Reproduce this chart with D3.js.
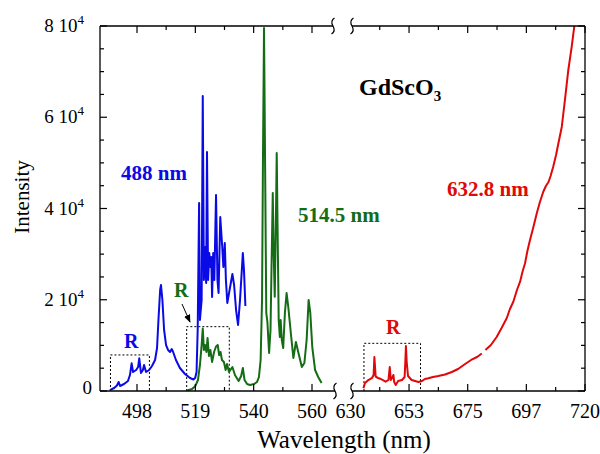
<!DOCTYPE html>
<html><head><meta charset="utf-8">
<script src="https://cdn.jsdelivr.net/npm/d3@7"></script>
<style>body{margin:0;background:#fff}svg{display:block}text{font-family:"Liberation Serif","Times New Roman",serif}</style>
</head><body>
<svg id="c" width="600" height="454"></svg>
<script>
// ---- data ----
const blueWl = [488.4,489.9,490.9,491.5,492.0,493.4,494.8,495.5,496.1,496.6,497.7,498.4,498.8,499.4,500.1,500.5,501.2,502.3,503.3,504.4,505.1,505.6,506.2,506.5,507.0,507.6,508.3,509.0,509.7,510.3,510.8,511.8,513.2,515.0,516.8,518.0,518.6,519.1,519.5,520.0,520.3,520.9,521.3,521.7,522.2,522.5,522.8,523.2,523.6,524.0,524.3,524.6,525.0,525.4,526.0,526.5,526.9,527.5,528.2,528.6,529.1,529.5,530.0,530.8,531.8,532.4,533.1,533.8,534.5,535.5,535.9,536.4];
const blueI = [200,660,1200,1970,1100,1530,2190,3500,6070,4160,4600,5260,7170,3950,4600,5700,4160,4600,5480,6800,9420,15560,22140,23230,19950,13370,10080,8990,8550,9200,8550,6800,5040,3730,2850,2520,2850,4160,13370,41200,15560,19950,64660,24330,31560,23670,52380,24330,30250,27180,29370,20600,30250,24330,42960,24330,21480,38140,31560,27180,32440,24330,19290,22140,25640,23230,17750,14470,19950,30250,26520,18630];
const greenWl = [515.7,517.5,518.7,519.6,520.3,520.9,521.3,521.7,522.1,522.6,523.0,523.5,524.0,524.6,525.3,526.0,526.6,527.1,527.6,528.1,528.8,529.4,529.9,530.6,531.8,532.7,534.0,534.9,535.5,536.1,537.0,538.0,539.5,540.5,541.2,541.8,542.3,542.6,543.0,543.4,543.8,544.2,544.8,545.3,545.7,546.1,546.4,546.8,547.3,547.5,547.9,548.2,548.6,548.9,549.3,549.8,550.4,551.0,551.6,552.5,553.4,554.3,555.2,556.4,557.3,558.1,558.8,559.4,560.1,561.1,562.2,563.4];
const greenI = [110,440,1100,2410,5700,10080,13700,8990,10080,8550,11620,7670,8990,6360,8550,9750,10080,7890,8550,6800,6360,4600,5920,4160,5260,3510,2190,3290,5040,2410,1530,1320,1530,1970,3070,6800,19950,48440,79560,48440,17100,15120,8330,13370,28710,43400,30900,20670,41860,52160,30900,15560,11840,15560,11180,9420,17100,21480,18410,12710,7230,10740,8330,5260,6140,11180,19950,17100,9640,4600,3070,1750];
const redWl = [635.0,635.6,636.9,638.3,638.9,639.2,639.7,640.6,641.7,643.5,644.6,645.1,645.5,646.2,646.5,646.8,647.4,648.3,649.8,650.8,651.1,651.3,651.6,652.1,653.5,654.8,656.1,657.5,658.6,659.9,661.7,663.7,666.3,668.9,671.3,674.0,676.3,678.6,680.4,681.1,681.8,683.9,686.1,688.0,690.0,691.2,692.5,693.9,695.1,696.0,697.0,697.9,698.9,700.2,701.5,702.7,704.0,705.0,706.0,706.8,707.8,708.9,709.8,711.1,712.3,713.6,714.9,716.2];
const redI = [590,1750,2410,2850,3510,7450,3130,2850,2630,2040,2410,5260,2410,3070,3510,1970,1320,2190,2410,3070,6800,9860,6360,3290,2410,2190,1970,2190,2630,2780,3070,3290,3620,4160,4820,5920,6800,7450,8220,null,8990,10080,11840,13810,16000,17970,19570,22140,23960,26080,27990,30690,33100,35950,38950,41420,43680,44930,45800,47120,49160,51730,54290,57930,63780,70360,75460,81320];

const leftMajor = [498, 518.67, 539.33, 560];
const leftMajorLabels = ["498","519","540","560"];
const leftMinor = [508.33, 529, 549.67];
const rightMajor = [630, 652.5, 675, 697.5, 720];
const rightMajorLabels = ["630","653","675","697","720"];
const rightMinor = [641.25, 663.75, 686.25, 708.75];
const yMajor = [0, 20000, 40000, 60000, 80000];
const yMajorMant = ["0","2 10","4 10","6 10","8 10"];
const yMinor = [5000,10000,15000,25000,30000,35000,45000,50000,55000,65000,70000,75000];

// R boxes [wlStart, wlEnd, top intensity]
const boxBlue = [488.6, 502.4, 7900];
const boxGreen = [515.6, 530.7, 14100];
const boxRed = [635.2, 656.9, 10450];

// ---- layout ----
const L = 100, R = 585, T = 26, B = 391;
const svg = d3.select("#c");
const xLeft = d3.scaleLinear().domain([498, 560]).range([137, 312]);
const xRight = d3.scaleLinear().domain([630, 720]).range([350.4, 585]);
const xs = w => w < 600 ? xLeft(w) : xRight(w);
const y = d3.scaleLinear().domain([0, 80000]).range([B, T]);

svg.append("defs").append("clipPath").attr("id","clip")
  .append("rect").attr("x",L).attr("y",T).attr("width",R-L).attr("height",B-T);
const mk = svg.select("defs").append("marker").attr("id","arr").attr("viewBox","0 0 10 10")
  .attr("refX",9).attr("refY",5).attr("markerWidth",8).attr("markerHeight",8).attr("orient","auto")
  .attr("markerUnits","userSpaceOnUse");
mk.append("path").attr("d","M0,1 L10,5 L0,9 z").attr("fill","#000");

// dotted boxes
function box(b){
  const x0 = xs(b[0]), x1 = xs(b[1]), yt = y(b[2]);
  svg.append("path").attr("d",`M${x0},${B} L${x0},${yt} L${x1},${yt} L${x1},${B}`)
    .attr("fill","none").attr("stroke","#000").attr("stroke-width",1).attr("stroke-dasharray","2,2");
}
box(boxBlue); box(boxGreen); box(boxRed);

// lines
const g = svg.append("g").attr("clip-path","url(#clip)");
function series(wl, vals, color){
  const d = wl.map((w,i)=>({w, v: vals[i]}));
  const line = d3.line().defined(p => p.v !== null).x(p => xs(p.w)).y(p => y(p.v));
  g.append("path").datum(d).attr("d", line).attr("fill","none").attr("stroke",color)
    .attr("stroke-width",2).attr("stroke-linejoin","round");
}
series(blueWl, blueI, "#0a0ae6");
series(greenWl, greenI, "#146c14");
series(redWl, redI, "#e00808");

// axes frame
const ax = svg.append("g").attr("stroke","#000").attr("stroke-width",1.3).attr("fill","none");
const breakL = 335, breakR = 352;
ax.append("line").attr("x1",L).attr("x2",L).attr("y1",T).attr("y2",B);
ax.append("line").attr("x1",R).attr("x2",R).attr("y1",T).attr("y2",B);
ax.append("line").attr("x1",L).attr("x2",breakL).attr("y1",B).attr("y2",B);
ax.append("line").attr("x1",breakR).attr("x2",R).attr("y1",B).attr("y2",B);
ax.append("line").attr("x1",L).attr("x2",breakL-2).attr("y1",T).attr("y2",T);
ax.append("line").attr("x1",breakR).attr("x2",R).attr("y1",T).attr("y2",T);
function brk(x, yy){
  ax.append("path").attr("d",`M${x+1.5},${yy-8} Q${x-3},${yy-5} ${x},${yy} Q${x+3},${yy+5} ${x-1.5},${yy+8}`)
    .attr("stroke-width",1.2);
}
brk(breakL, B); brk(breakR, B); brk(breakL-2, T); brk(breakR, T);

// x ticks
const xt = svg.append("g").attr("stroke","#000").attr("stroke-width",1.2);
function xtick(px, len){
  xt.append("line").attr("x1",px).attr("x2",px).attr("y1",B).attr("y2",B-len);
  xt.append("line").attr("x1",px).attr("x2",px).attr("y1",T).attr("y2",T+len);
}
leftMajor.forEach(v=>xtick(xLeft(v),7));
leftMinor.forEach(v=>xtick(xLeft(v),4));
rightMajor.slice(1).forEach(v=>xtick(xRight(v),7));
rightMinor.forEach(v=>xtick(xRight(v),4));
// y ticks
yMajor.forEach(v=>{
  xt.append("line").attr("x1",L).attr("x2",L+7).attr("y1",y(v)).attr("y2",y(v));
  xt.append("line").attr("x1",R).attr("x2",R-7).attr("y1",y(v)).attr("y2",y(v));
});
yMinor.forEach(v=>{
  xt.append("line").attr("x1",L).attr("x2",L+4).attr("y1",y(v)).attr("y2",y(v));
  xt.append("line").attr("x1",R).attr("x2",R-4).attr("y1",y(v)).attr("y2",y(v));
});

// tick labels
const tl = svg.append("g").attr("font-size",20).attr("fill","#000").attr("text-anchor","middle");
leftMajor.forEach((v,i)=>tl.append("text").attr("x",xLeft(v)).attr("y",418).text(leftMajorLabels[i]));
rightMajor.forEach((v,i)=>tl.append("text").attr("x",xRight(v)).attr("y",418).text(rightMajorLabels[i]));
yMajor.forEach((v,i)=>{
  const t = svg.append("text").attr("font-size",19).attr("text-anchor","end").attr("y",y(v)+6);
  if (v === 0) { t.attr("x",92).attr("y",y(v)+3).text(yMajorMant[i]); }
  else {
    t.attr("x",84);
    t.append("tspan").text(yMajorMant[i]);
    t.append("tspan").attr("font-size",13).attr("dy",-8).text("4");
  }
});

// axis titles
svg.append("text").attr("x",344).attr("y",448).attr("text-anchor","middle").attr("font-size",25).text("Wavelength (nm)");
svg.append("text").attr("transform","translate(29,197) rotate(-90)").attr("text-anchor","middle").attr("font-size",21).text("Intensity");

// annotations
const an = svg.append("g").attr("font-weight","bold").attr("font-size",21);
const gd = an.append("text").attr("x",359).attr("y",95).attr("font-size",24).attr("fill","#000");
gd.append("tspan").text("GdScO");
gd.append("tspan").attr("font-size",15).attr("dy",6).text("3");
an.append("text").attr("x",121).attr("y",180).attr("fill","#0a0ae6").text("488 nm");
an.append("text").attr("x",298).attr("y",222).attr("fill","#146c14").text("514.5 nm");
an.append("text").attr("x",447).attr("y",196).attr("fill","#e00808").text("632.8 nm");
an.append("text").attr("x",124).attr("y",348).attr("font-size",20).attr("fill","#0a0ae6").text("R");
an.append("text").attr("x",174).attr("y",297).attr("font-size",20).attr("fill","#146c14").text("R");
an.append("text").attr("x",386).attr("y",334).attr("font-size",20).attr("fill","#e00808").text("R");
svg.append("line").attr("x1",182).attr("y1",304).attr("x2",190).attr("y2",322)
  .attr("stroke","#000").attr("stroke-width",1).attr("marker-end","url(#arr)");
</script>
</body></html>
